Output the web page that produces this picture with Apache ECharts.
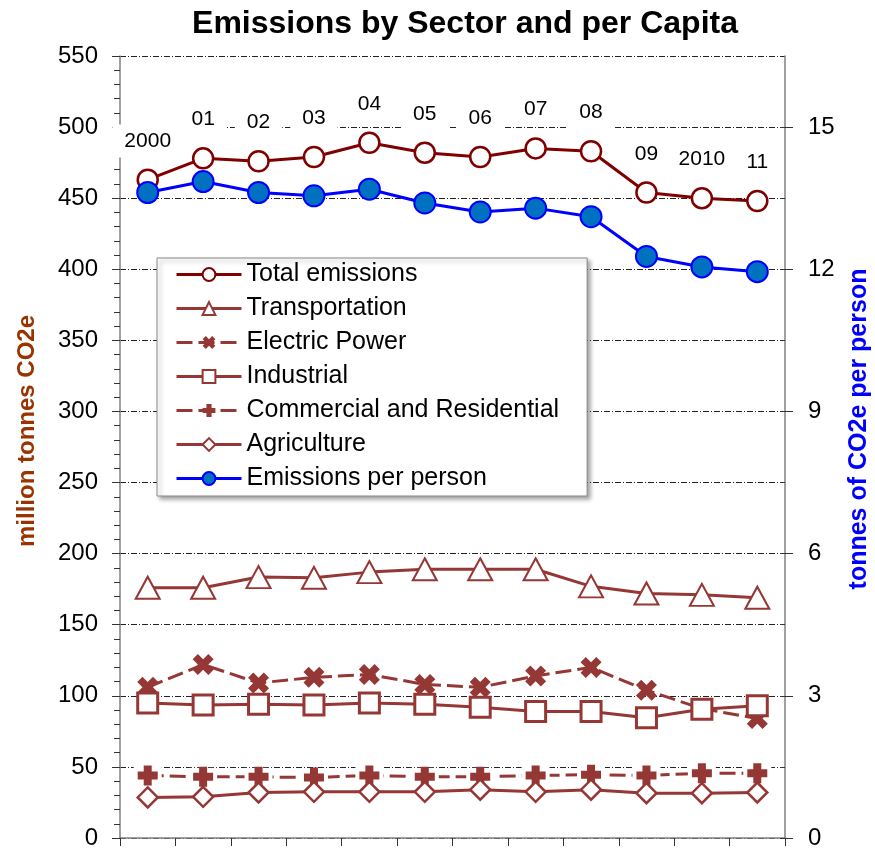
<!DOCTYPE html>
<html>
<head>
<meta charset="utf-8">
<script src="https://cdn.jsdelivr.net/npm/echarts@6/dist/echarts.min.js"></script>
<style>
html,body{margin:0;padding:0;background:#fff;}
#chart{width:875px;height:850px;}
</style>
</head>
<body>
<div id="chart"></div>
<script>
// ---- data ----
const categories = ['2000','2001','2002','2003','2004','2005','2006','2007','2008','2009','2010','2011'];
const yearLabels = ['2000','01','02','03','04','05','06','07','08','09','2010','11'];
const totalEmissions = [463, 478, 476, 479, 489, 482, 479, 485, 483, 454, 450, 448];
const transportation = [176, 176, 183.5, 183, 187, 189, 189, 189, 177, 172, 171, 169];
const electricPower = [106, 122, 109, 113, 115, 108, 106, 114, 120, 104, 91, 84];
const industrial = [95, 93.5, 94, 93.5, 95, 94, 92, 89, 89, 84.5, 90.5, 93];
const commercialResidential = [44, 43, 43, 42.5, 44, 43, 43, 44, 44.5, 44, 45.5, 45.5];
const agriculture = [28.5, 29, 32, 32.5, 32.5, 32.5, 34, 32.5, 34, 31.5, 31.5, 32];
const perPerson = [13.62, 13.85, 13.62, 13.55, 13.69, 13.40, 13.21, 13.29, 13.11, 12.27, 12.05, 11.95];
const rightTickValues = [0, 3, 6, 9, 12, 15];
const rightMinorTickValues = [0, 1.5, 3, 4.5, 6, 7.5, 9, 10.5, 12, 13.5, 15];

const FONT = '"Liberation Sans", Arial, sans-serif';
const SECTOR = '#953735';
const TOTAL = '#800000';
const X_PATH = 'path://M0,2.5 L2.5,0 L5,2.5 L7.5,0 L10,2.5 L7.5,5 L10,7.5 L7.5,10 L5,7.5 L2.5,10 L0,7.5 L2.5,5 Z';
const PLUS_PATH = 'path://M3,0 H7 V3 H10 V7 H7 V10 H3 V7 H0 V3 H3 Z';

const chart = echarts.init(document.getElementById('chart'));

const gridLine = { show: true, lineStyle: { color: '#222', width: 1, type: [6, 2, 1, 2] } };

chart.setOption({
  animation: false,
  backgroundColor: '#fff',
  title: {
    text: 'Emissions by Sector and per Capita',
    left: 460, top: 3, textAlign: 'center',
    textStyle: { fontFamily: FONT, fontWeight: 'bold', fontSize: 32, color: '#000' }
  },
  grid: { left: 120, right: 90, top: 56, bottom: 12, containLabel: false, outerBoundsMode: 'none' },
  legend: {
    orient: 'vertical',
    left: 157, top: 258,
    padding: [4, 28, 5, 18],
    itemWidth: 65, itemHeight: 16, itemGap: 9,
    backgroundColor: '#fff',
    borderColor: '#888', borderWidth: 1,
    shadowColor: 'rgba(0,0,0,0.35)', shadowBlur: 4, shadowOffsetX: 3, shadowOffsetY: 3,
    lineStyle: { width: 3 },
    textStyle: { fontFamily: FONT, fontSize: 25, color: '#000' },
    data: ['Total emissions','Transportation','Electric Power','Industrial','Commercial and Residential','Agriculture','Emissions per person']
  },
  xAxis: {
    type: 'category', data: categories, boundaryGap: true,
    axisLine: { lineStyle: { color: '#808080', width: 1.5 } },
    axisTick: { show: true, interval: 0, length: 8, lineStyle: { color: '#333' } },
    axisLabel: { show: false },
    splitLine: { show: false }
  },
  yAxis: [
    {
      type: 'value', min: 0, max: 550, interval: 50, position: 'left',
      name: 'million tonnes CO2e', nameLocation: 'middle', nameGap: 81,
      nameTextStyle: { fontFamily: FONT, fontWeight: 'bold', fontSize: 24, color: '#993300', padding: [0, 0, 0, 32] },
      axisLine: { show: true, lineStyle: { color: '#808080', width: 1.5 } },
      axisTick: { show: true, length: 8, lineStyle: { color: '#333' } },
      minorTick: { show: true, splitNumber: 5, length: 6, lineStyle: { color: '#333' } },
      axisLabel: { fontFamily: FONT, fontSize: 24, color: '#000', margin: 22 },
      splitLine: gridLine
    },
    {
      type: 'value', min: 0, max: 16.5, position: 'right',
      name: 'tonnes of CO2e per person', nameLocation: 'middle', nameGap: 62,
      nameTextStyle: { fontFamily: FONT, fontWeight: 'bold', fontSize: 25, color: '#0000FF', padding: [0, 0, 0, 36] },
      axisLine: { show: true, lineStyle: { color: '#808080', width: 1.5 } },
      axisTick: { show: true, length: 8, customValues: rightTickValues, lineStyle: { color: '#333' } },
      axisLabel: { fontFamily: FONT, fontSize: 24, color: '#000', margin: 23, customValues: rightTickValues },
      splitLine: { show: false }
    },
    {
      type: 'value', min: 0, max: 16.5, position: 'right',
      axisLine: { show: false },
      axisTick: { show: true, inside: true, length: 5, customValues: rightMinorTickValues, lineStyle: { color: '#333' } },
      axisLabel: { show: false },
      splitLine: { show: false }
    }
  ],
  series: [
    {
      name: 'gap', type: 'line', data: commercialResidential, silent: true,
      symbol: 'rect', symbolSize: [28, 18], showAllSymbol: true,
      itemStyle: { color: '#fff', borderWidth: 0 },
      lineStyle: { width: 0, opacity: 0 }
    },
    {
      name: 'Total emissions', type: 'line', data: totalEmissions,
      symbol: 'circle', symbolSize: 20, showAllSymbol: true,
      lineStyle: { color: TOTAL, width: 3 },
      itemStyle: { color: '#fff', borderColor: TOTAL, borderWidth: 2.5 },
      label: {
        show: true, position: 'top', distance: 11,
        formatter: p => yearLabels[p.dataIndex],
        fontFamily: FONT, fontSize: 21, color: '#000',
        backgroundColor: '#fff', padding: [6, 12]
      }
    },
    {
      name: 'Transportation', type: 'line', data: transportation,
      symbol: 'triangle', symbolSize: [24, 22], showAllSymbol: true,
      lineStyle: { color: SECTOR, width: 3 },
      itemStyle: { color: '#fff', borderColor: SECTOR, borderWidth: 2 }
    },
    {
      name: 'Electric Power', type: 'line', data: electricPower,
      symbol: X_PATH, symbolSize: 21, showAllSymbol: true,
      lineStyle: { color: SECTOR, width: 3, type: [16, 6] },
      itemStyle: { color: SECTOR, borderWidth: 0 }
    },
    {
      name: 'Industrial', type: 'line', data: industrial,
      symbol: 'rect', symbolSize: 20, showAllSymbol: true,
      lineStyle: { color: SECTOR, width: 3 },
      itemStyle: { color: '#fff', borderColor: SECTOR, borderWidth: 3 }
    },
    {
      name: 'Commercial and Residential', type: 'line', data: commercialResidential,
      symbol: PLUS_PATH, symbolSize: 20, showAllSymbol: true,
      lineStyle: { color: SECTOR, width: 3, type: [16, 6] },
      itemStyle: { color: SECTOR, borderWidth: 0 }
    },
    {
      name: 'Agriculture', type: 'line', data: agriculture,
      symbol: 'diamond', symbolSize: 20, showAllSymbol: true,
      lineStyle: { color: SECTOR, width: 3 },
      itemStyle: { color: '#fff', borderColor: SECTOR, borderWidth: 2.5 }
    },
    {
      name: 'Emissions per person', type: 'line', data: perPerson, yAxisIndex: 1,
      symbol: 'circle', symbolSize: 21, showAllSymbol: true,
      lineStyle: { color: '#0000FF', width: 3 },
      itemStyle: { color: '#0070C0', borderColor: '#0000FF', borderWidth: 2 }
    }
  ]
});
</script>
</body>
</html>
